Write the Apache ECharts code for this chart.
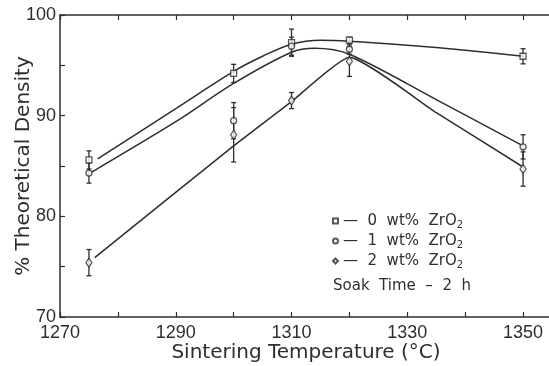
<!DOCTYPE html>
<html><head><meta charset="utf-8">
<script src="https://cdn.jsdelivr.net/npm/echarts@6/dist/echarts.min.js"></script>
<style>html,body{margin:0;padding:0;background:#fff}#c{width:549px;height:366px}</style>
</head><body><div id="c"></div>
<script>
// Measured densities (% of theoretical) at each sintering temperature
const temps = [1275, 1300, 1310, 1320, 1350];
const zr0 = [85.6, 94.2, 97.25, 97.5, 95.9];
const zr0Err = [0.9, 0.9, 1.35, 0.3, 0.75];
const zr1 = [84.3, 89.5, 96.9, 96.6, 86.9];
const zr1Err = [1.0, 1.8, 0.9, 0.5, 1.2];
const zr2 = [75.4, 88.1, 91.5, 95.4, 84.7];
const zr2Err = [1.3, 2.7, 0.8, 1.5, 1.7];

// Hand-drawn trend curves through the data
const fit0T = [1276.5, 1290, 1300, 1305, 1310, 1315, 1320, 1330, 1340, 1350];
const fit0 = [85.7, 90.7, 94.4, 95.9, 97.1, 97.5, 97.4, 97.0, 96.5, 95.9];
const fit1T = [1275.5, 1290, 1300, 1310, 1314, 1320, 1335, 1350];
const fit1 = [84.4, 89.4, 93.2, 96.3, 96.7, 96.1, 91.6, 87.0];
const fit2T = [1276, 1300, 1310, 1320, 1335, 1350];
const fit2 = [75.9, 87.0, 91.4, 95.8, 90.3, 84.9];

const xTickLabels = [1270, 1290, 1310, 1330, 1350];
const yTickLabels = [70, 80, 90, 100];
const seriesNames = ['0', '1', '2'];

const ink = '#2e2e2e';
const tickFont = { fontFamily: 'Liberation Sans', fontSize: 18, color: ink };
const titleFont = { fontFamily: 'DejaVu Sans', fontSize: 20, color: ink };

const zip = (xs, ys) => xs.map((x, i) => [x, ys[i]]);
const bars = (vals, errs) => temps.map((t, i) => [t, vals[i] - errs[i], vals[i] + errs[i]]);

function renderErr(params, api) {
  const x = api.value(0);
  const lo = api.coord([x, api.value(1)]);
  const hi = api.coord([x, api.value(2)]);
  const w = 2.5;
  const st = { stroke: ink, lineWidth: 1.3 };
  return {
    type: 'group',
    children: [
      { type: 'line', shape: { x1: lo[0], y1: lo[1], x2: hi[0], y2: hi[1] }, style: st },
      { type: 'line', shape: { x1: lo[0] - w, y1: lo[1], x2: lo[0] + w, y2: lo[1] }, style: st },
      { type: 'line', shape: { x1: hi[0] - w, y1: hi[1], x2: hi[0] + w, y2: hi[1] }, style: st }
    ]
  };
}

function errSeries(vals, errs) {
  return { type: 'custom', renderItem: renderErr, data: bars(vals, errs),
           encode: { x: 0, y: [1, 2] }, z: 3, silent: true };
}
function curve(xs, ys, smooth) {
  return { type: 'line', data: zip(xs, ys), smooth: smooth, showSymbol: false,
           lineStyle: { color: ink, width: 1.5 }, z: 2, silent: true };
}
function marks(name, vals, symbol, size) {
  return { name: name, type: 'scatter', data: zip(temps, vals), symbol: symbol, symbolSize: size,
           itemStyle: { color: '#fff', borderColor: ink, borderWidth: 1.3 }, z: 4 };
}

const xAxisBase = {
  type: 'value', min: 1270, max: 1355, interval: 10,
  axisLine: { lineStyle: { color: ink, width: 1.5 } },
  axisTick: { inside: true, length: 5, lineStyle: { color: ink, width: 1.2 } },
  splitLine: { show: false }
};

const chart = echarts.init(document.getElementById('c'), null, { renderer: 'canvas' });
chart.setOption({
  animation: false,
  backgroundColor: '#fff',
  grid: { left: 60, right: -3, top: 15, bottom: 49, containLabel: false, outerBoundsMode: 'none' },
  xAxis: [
    Object.assign({}, xAxisBase, {
      position: 'bottom',
      name: 'Sintering Temperature (°C)', nameLocation: 'middle', nameGap: 26, nameMoveOverlap: false,
      nameTextStyle: titleFont,
      axisLabel: Object.assign({ margin: 7, formatter: v => xTickLabels.includes(v) ? String(v) : '' }, tickFont)
    }),
    Object.assign({}, xAxisBase, { position: 'top', axisLabel: { show: false } })
  ],
  yAxis: {
    type: 'value', min: 70, max: 100, interval: 5,
    name: '% Theoretical Density', nameLocation: 'middle', nameGap: 26, nameMoveOverlap: false,
    nameTextStyle: titleFont,
    axisLine: { lineStyle: { color: ink, width: 1.5 } },
    axisTick: { inside: true, length: 5, lineStyle: { color: ink, width: 1.2 } },
    splitLine: { show: false },
    axisLabel: Object.assign({ margin: 4, formatter: v => yTickLabels.includes(v) ? String(v) : '' }, tickFont)
  },
  legend: {
    data: seriesNames, orient: 'vertical', left: 332, top: 212,
    itemWidth: 5, itemHeight: 5, itemGap: 2, padding: 0,
    formatter: n => '—  ' + n + '  wt%  ZrO{sub|2}',
    textStyle: {
      fontFamily: 'DejaVu Sans', fontSize: 15, color: ink, lineHeight: 18,
      rich: { sub: { fontFamily: 'DejaVu Sans', fontSize: 10, color: ink, verticalAlign: 'bottom', lineHeight: 18, padding: [7, 0, 0, 0] } }
    }
  },
  graphic: [{
    type: 'text', left: 333, top: 279,
    style: { text: 'Soak  Time  –  2  h', font: '15px "DejaVu Sans"', fill: ink }
  }],
  series: [
    curve(fit0T, fit0, 0.35),
    curve(fit1T, fit1, 0.3),
    curve(fit2T, fit2, 0.15),
    errSeries(zr0, zr0Err),
    errSeries(zr1, zr1Err),
    errSeries(zr2, zr2Err),
    marks('0', zr0, 'rect', 6),
    marks('1', zr1, 'circle', 6),
    marks('2', zr2, 'diamond', [6, 9])
  ]
});
</script></body></html>
